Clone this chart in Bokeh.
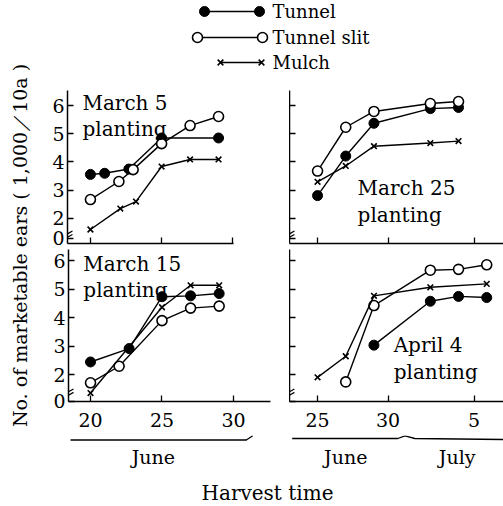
import math
from bokeh.plotting import figure
from bokeh.layouts import row, column
from bokeh.models import Range1d, FixedTicker, CustomJSTickFormatter
from bokeh.core.properties import value
from bokeh.embed import file_html
from bokeh.resources import INLINE

FONT = "DejaVu Serif"

# ---------------- data ----------------
# x = harvest day on the chart's own day scale (June days; the right-hand
# panels run on past June 30 into July as drawn on the original axis)
m5_tunnel_x = [20, 21, 22.7, 25, 29]
m5_tunnel_y = [3.56, 3.6, 3.75, 4.85, 4.85]
m5_slit_x = [20, 22, 23, 25, 27, 29]
m5_slit_y = [2.67, 3.31, 3.73, 4.65, 5.29, 5.61]
m5_mulch_x = [20, 22.1, 23.2, 25, 27, 29]
m5_mulch_y = [1.61, 2.35, 2.6, 3.84, 4.09, 4.09]

m25_tunnel_x = [25, 27, 29, 33, 35]
m25_tunnel_y = [2.81, 4.21, 5.37, 5.89, 5.93]
m25_slit_x = [25, 27, 29, 33, 35]
m25_slit_y = [3.68, 5.23, 5.79, 6.07, 6.14]
m25_mulch_x = [25, 27, 29, 33, 35]
m25_mulch_y = [3.3, 3.86, 4.56, 4.67, 4.74]

m15_tunnel_x = [20, 22.7, 25, 27, 29]
m15_tunnel_y = [2.44, 2.91, 4.73, 4.76, 4.84]
m15_slit_x = [20, 22, 25, 27, 29]
m15_slit_y = [1.71, 2.29, 3.89, 4.33, 4.4]
m15_mulch_x = [20, 25, 27, 29]
m15_mulch_y = [1.35, 4.36, 5.13, 5.13]

a4_tunnel_x = [29, 33, 35, 37]
a4_tunnel_y = [3.03, 4.57, 4.74, 4.7]
a4_slit_x = [27, 29, 33, 35, 37]
a4_slit_y = [1.74, 4.42, 5.66, 5.69, 5.85]
a4_mulch_x = [25, 27, 29, 33, 37]
a4_mulch_y = [1.9, 2.64, 4.76, 5.06, 5.18]

series_names = ["Tunnel", "Tunnel slit", "Mulch"]
panel_titles = ["March 5\nplanting", "March 25\nplanting",
                "March 15\nplanting", "April 4\nplanting"]
y_tick_values = [2, 3, 4, 5, 6]
left_x_ticks = [20, 25, 30]
left_x_labels = ["20", "25", "30"]
right_x_ticks = [25, 30, 36.1]
right_x_labels = ["25", "30", "5"]
month_labels = ["June", "June", "July"]
y_title = "No. of marketable ears ( 1,000／10a )"
x_title = "Harvest time"

# ---------------- layout constants ----------------
TOP_YR = (1.115, 6.531)
BOT_YR = (1.053, 6.386)
LEFT_TOP_XR = (18.39, 30.05)
LEFT_BOT_XR = (18.46, 32.59)
RIGHT_XR = (23.01, 38.19)


def style_axes(p, show_x, show_y, xticks, xlabels, yr, zero_off):
    for ax in (p.xaxis[0], p.yaxis[0]):
        ax.axis_line_color = "black"
        ax.axis_line_width = 1.5
        ax.major_tick_line_color = "black"
        ax.major_tick_line_width = 1.3
        ax.major_tick_in = 6
        ax.major_tick_out = 0
        ax.minor_tick_line_color = None
        ax.major_label_text_font = FONT
        ax.major_label_text_color = "black"
    xa = p.xaxis[0]
    xa.ticker = FixedTicker(ticks=xticks)
    if show_x:
        xa.formatter = CustomJSTickFormatter(
            args=dict(pos=xticks, lab=xlabels),
            code="const i = pos.indexOf(tick); return i >= 0 ? lab[i] : '';")
        xa.major_label_text_font_size = "19px"
        xa.major_label_standoff = 11
    else:
        xa.formatter = CustomJSTickFormatter(code="return '';")
        xa.major_label_text_font_size = "1px"
        xa.major_label_standoff = 0
    ya = p.yaxis[0]
    ya.ticker = FixedTicker(ticks=[yr[0] + zero_off] + y_tick_values)
    if show_y:
        ya.formatter = CustomJSTickFormatter(
            code="return tick < 1.5 ? '0' : tick.toFixed(0);")
        ya.major_label_text_font_size = "19px"
        ya.major_label_standoff = 3
    else:
        ya.formatter = CustomJSTickFormatter(code="return '';")
        ya.major_label_text_font_size = "1px"
        ya.major_label_standoff = 0


def make_panel(width, height, xr, yr, bl, br, bb, show_x, show_y, xticks,
               xlabels, zero_off):
    p = figure(width=width, height=height,
               x_range=Range1d(*xr), y_range=Range1d(*yr),
               output_backend="svg", toolbar_location=None,
               min_border_left=bl, min_border_right=br,
               min_border_top=0, min_border_bottom=bb)
    p.outline_line_color = None
    p.grid.visible = False
    style_axes(p, show_x, show_y, xticks, xlabels, yr, zero_off)
    # axis-break strokes near the foot of the y axis
    x0 = xr[0]
    p.segment(x0=[x0, x0], y0=[yr[0] + 0.22, yr[0] + 0.34],
              x1=[x0 + 0.35, x0 + 0.35], y1=[yr[0] + 0.32, yr[0] + 0.44],
              line_color="black", line_width=1.2)
    return p


def add_series(p, xs, ys, kind):
    p.line(xs, ys, line_color="black", line_width=1.4)
    if kind == 0:
        p.scatter(xs, ys, marker="circle", size=10, fill_color="black",
                  line_color="black")
    elif kind == 1:
        p.scatter(xs, ys, marker="circle", size=10, fill_color="white",
                  line_color="black", line_width=1.6)
    else:
        p.scatter(xs, ys, marker="x", size=8, line_color="black",
                  line_width=1.6)


def add_title(p, x, y, t):
    p.text(x=[x], y=[y], text=[t], text_font=value(FONT),
           text_font_size="20px", text_baseline="top", text_align="left",
           text_line_height=1.1, text_color="black")


# ---------------- panels ----------------
tl = make_panel(253, 159, LEFT_TOP_XR, TOP_YR, 31, 56, 6, False, True,
                left_x_ticks, left_x_labels, 0.18)
tr = make_panel(214, 159, RIGHT_XR, TOP_YR, 0, 0, 6, False, False,
                right_x_ticks, right_x_labels, 0.18)
bl = make_panel(253, 186, LEFT_BOT_XR, BOT_YR, 32, 19, 34, True, True,
                left_x_ticks, left_x_labels, 0.01)
br = make_panel(214, 186, RIGHT_XR, BOT_YR, 0, 0, 34, True, False,
                right_x_ticks, right_x_labels, 0.01)

for kind, (xs, ys) in enumerate([(m5_tunnel_x, m5_tunnel_y),
                                 (m5_slit_x, m5_slit_y),
                                 (m5_mulch_x, m5_mulch_y)]):
    add_series(tl, xs, ys, kind)
for kind, (xs, ys) in enumerate([(m25_tunnel_x, m25_tunnel_y),
                                 (m25_slit_x, m25_slit_y),
                                 (m25_mulch_x, m25_mulch_y)]):
    add_series(tr, xs, ys, kind)
for kind, (xs, ys) in enumerate([(m15_tunnel_x, m15_tunnel_y),
                                 (m15_slit_x, m15_slit_y),
                                 (m15_mulch_x, m15_mulch_y)]):
    add_series(bl, xs, ys, kind)
for kind, (xs, ys) in enumerate([(a4_tunnel_x, a4_tunnel_y),
                                 (a4_slit_x, a4_slit_y),
                                 (a4_mulch_x, a4_mulch_y)]):
    add_series(br, xs, ys, kind)

add_title(tl, 19.44, 6.525, panel_titles[0])
add_title(tr, 27.84, 3.49, panel_titles[1])
add_title(bl, 19.5, 6.30, panel_titles[2])
add_title(br, 30.4, 3.44, panel_titles[3])


def helper(width, height, xr, yr, bl=0, br=0):
    p = figure(width=width, height=height, x_range=xr, y_range=yr,
               output_backend="svg", toolbar_location=None,
               x_axis_location=None, y_axis_location=None,
               min_border_left=bl, min_border_right=br,
               min_border_top=0, min_border_bottom=0)
    p.outline_line_color = None
    p.grid.visible = False
    return p


# ---------------- legend ----------------
leg = helper(467, 90, Range1d(36, 503), Range1d(90, 0))
leg_y = [11, 37, 62]
leg_x0 = [204, 197, 220]
leg_x1 = [259, 262, 261]
leg.segment(x0=leg_x0, y0=leg_y, x1=leg_x1, y1=leg_y, line_color="black",
            line_width=1.4)
for k in range(3):
    xs = [leg_x0[k], leg_x1[k]]
    ys = [leg_y[k], leg_y[k]]
    if k == 0:
        leg.scatter(xs, ys, marker="circle", size=10, fill_color="black",
                    line_color="black")
    elif k == 1:
        leg.scatter(xs, ys, marker="circle", size=10, fill_color="white",
                    line_color="black", line_width=1.6)
    else:
        leg.scatter(xs, ys, marker="x", size=8, line_color="black",
                    line_width=1.6)
leg.text(x=[272, 272, 272], y=leg_y, text=series_names,
         text_font=value(FONT), text_font_size="18px",
         text_baseline="middle", text_align="left", text_color="black")

# ---------------- y title ----------------
yt = helper(36, 506, Range1d(0, 36), Range1d(506, 0))
yt.text(x=[19], y=[245], text=[y_title], angle=math.pi / 2,
        text_font=value(FONT), text_font_size="19px",
        text_baseline="middle", text_align="center", text_color="black")

# ---------------- month braces ----------------
bla = helper(253, 41, bl.x_range, Range1d(41, 0), 32, 19)
bra = helper(214, 41, br.x_range, Range1d(41, 0), 0, 0)
bla.line([18.6, 30.9, 31.35], [4.5, 4.5, 0.3], line_color="black",
         line_width=1.3)
bra.line([23.2, 30.7, 31.2, 31.9, 38.3], [3, 3, 0.3, 3, 4],
         line_color="black", line_width=1.3)
bla.text(x=[24.4], y=[21], text=[month_labels[0]], text_font=value(FONT),
         text_font_size="19px", text_baseline="middle", text_align="center")
bra.text(x=[27.0, 34.9], y=[21, 21], text=month_labels[1:],
         text_font=value(FONT), text_font_size="19px",
         text_baseline="middle", text_align="center")

# ---------------- x title ----------------
xt = helper(467, 30, Range1d(36, 503), Range1d(30, 0))
xt.text(x=[267], y=[16], text=[x_title], text_font=value(FONT),
        text_font_size="20px", text_baseline="middle", text_align="center")

layout = row(yt, column(leg, row(tl, tr), row(bl, br), row(bla, bra), xt))

open("out.html", "w").write(file_html(layout, INLINE))
